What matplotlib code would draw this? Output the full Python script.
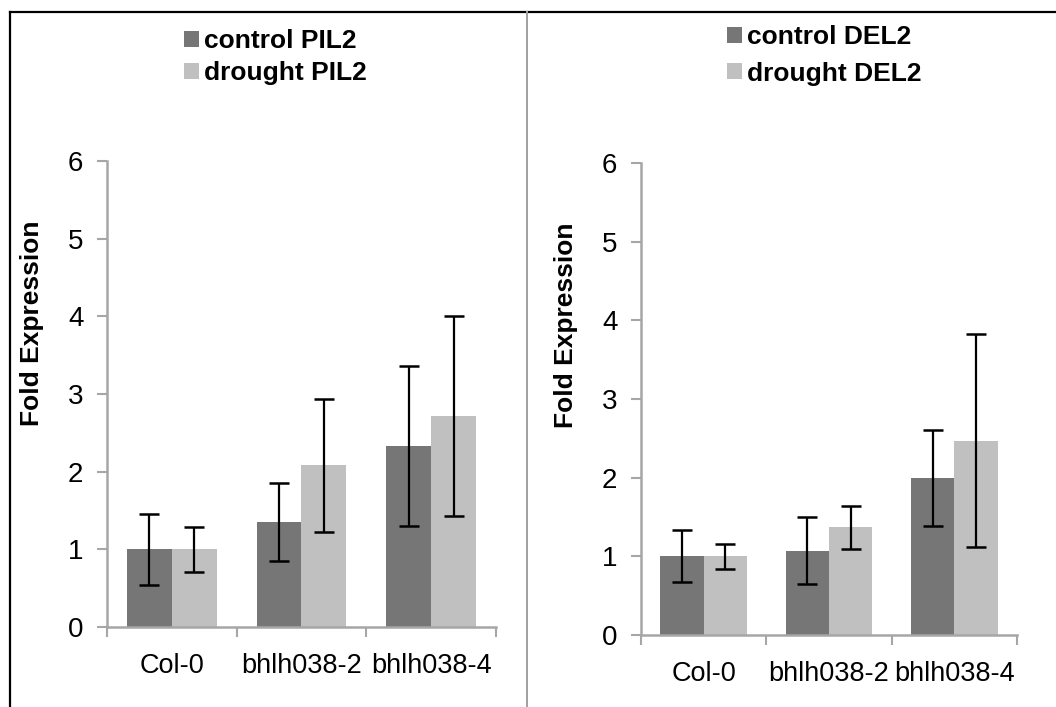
import matplotlib
matplotlib.use("Agg")
import matplotlib.pyplot as plt
from matplotlib.lines import Line2D
from matplotlib.patches import Patch
import numpy as np

plt.rcParams['font.family'] = ['Liberation Sans', 'DejaVu Sans']

categories = ["Col-0", "bhlh038-2", "bhlh038-4"]

pil2_control = [1.00, 1.35, 2.33]
pil2_control_err = [0.46, 0.505, 1.03]
pil2_drought = [1.00, 2.08, 2.72]
pil2_drought_err = [0.29, 0.86, 1.285]

del2_control = [1.00, 1.07, 2.00]
del2_control_err = [0.33, 0.425, 0.61]
del2_drought = [1.00, 1.37, 2.47]
del2_drought_err = [0.16, 0.275, 1.355]

legend_left = ["control PIL2", "drought PIL2"]
legend_right = ["control DEL2", "drought DEL2"]
y_ticks = [0, 1, 2, 3, 4, 5, 6]
y_label = "Fold Expression"

C_DARK = "#767676"
C_LIGHT = "#c0c0c0"
SPINE = "#a6a6a6"

W, H = 1056, 707
fig = plt.figure(figsize=(W / 100, H / 100), dpi=100)


def px_axes(x0, x1, y0, y1):
    return fig.add_axes([x0 / W, 1 - y0 / H, (x1 - x0) / W, (y0 - y1) / H])


def draw_panel(ax, ctrl, ctrl_err, drt, drt_err, labels, leg_anchor, leg_spacing):
    x = np.arange(len(categories))
    bw = 0.347
    ax.bar(x - bw / 2, ctrl, bw, color=C_DARK, zorder=2)
    ax.bar(x + bw / 2, drt, bw, color=C_LIGHT, zorder=2)
    ek = dict(fmt="none", ecolor="black", elinewidth=1.6, capsize=7.5, capthick=1.8, zorder=3)
    ax.errorbar(x - bw / 2, ctrl, yerr=ctrl_err, **ek)
    ax.errorbar(x + bw / 2, drt, yerr=drt_err, **ek)
    ax.set_xlim(-0.5, len(categories) - 0.5)
    ax.set_ylim(0, 6)
    ax.set_yticks(y_ticks)
    ax.set_yticklabels([str(t) for t in y_ticks], fontsize=20)
    ax.set_xticks(x)
    ax.set_xticklabels(categories, fontsize=19.5)
    ax.set_xticks(np.arange(-0.5, len(categories)), minor=True)
    ax.tick_params(axis="x", which="major", length=0, pad=19)
    ax.tick_params(axis="x", which="minor", length=7, width=1.5, color=SPINE, direction="out")
    ax.tick_params(axis="y", which="major", length=7, width=1.5, color=SPINE, pad=10)
    for s in ["top", "right"]:
        ax.spines[s].set_visible(False)
    for s in ["left", "bottom"]:
        ax.spines[s].set_color(SPINE)
        ax.spines[s].set_linewidth(1.8)
    handles = [Patch(facecolor=C_DARK, edgecolor="none"), Patch(facecolor=C_LIGHT, edgecolor="none")]
    fig.legend(handles, labels, loc="upper left", bbox_to_anchor=leg_anchor,
               frameon=False, borderpad=0, borderaxespad=0,
               handlelength=0.55, handleheight=0.55, handletextpad=0.2,
               labelspacing=leg_spacing, prop=dict(size=19, weight="bold"))
    return ax


axL = px_axes(107, 496, 627, 161)
draw_panel(axL, pil2_control, pil2_control_err, pil2_drought, pil2_drought_err,
           legend_left, (184 / W, 1 - 29 / H), 0.3)
axR = px_axes(641, 1017, 635, 163)
draw_panel(axR, del2_control, del2_control_err, del2_drought, del2_drought_err,
           legend_right, (727 / W, 1 - 25 / H), 0.48)

fig.text(32 / W, 1 - 323 / H, y_label, rotation=90, ha="center", va="center",
         fontsize=19, fontweight="bold")
fig.text(566 / W, 1 - 325 / H, y_label, rotation=90, ha="center", va="center",
         fontsize=19, fontweight="bold")

# outer frame
fig.add_artist(Line2D([9.5 / W, 1], [1 - 12 / H, 1 - 12 / H], color="black", lw=1.6))
fig.add_artist(Line2D([9.5 / W, 9.5 / W], [0, 1 - 12 / H], color="black", lw=1.6))
fig.add_artist(Line2D([527 / W, 527 / W], [0, 1 - 12 / H], color="#a0a0a0", lw=1.4))

fig.savefig("out.png", dpi=100)
